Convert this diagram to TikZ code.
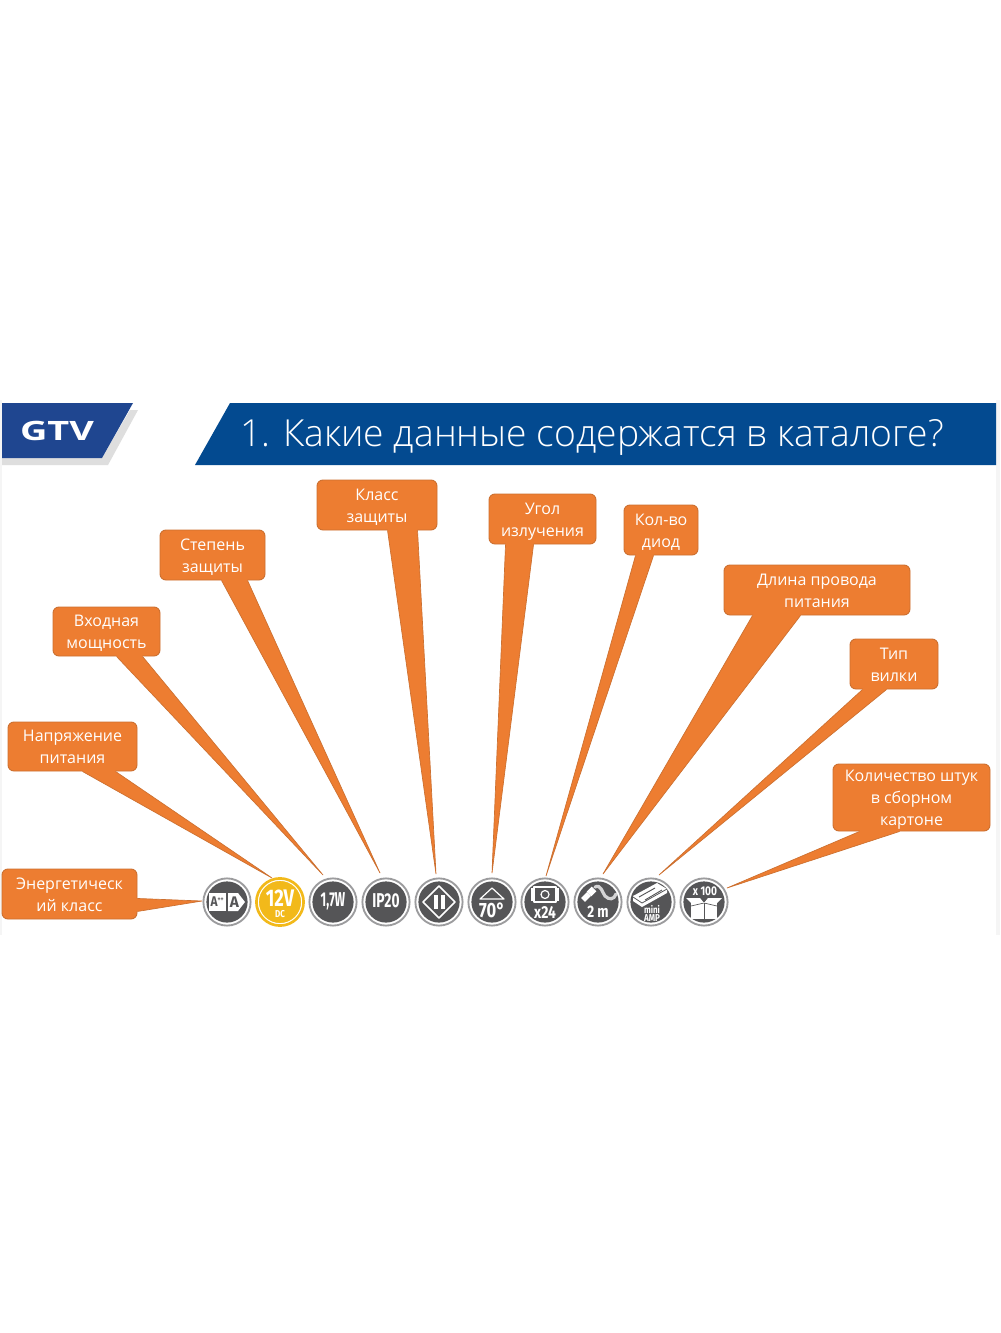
\documentclass[tikz,border=0pt]{standalone}
\usepackage{fontspec}
\setmainfont{Open Sans}
\newfontfamily\titlefont{Open Sans Light}
\newfontfamily\iconfont{Fira Sans}
\usetikzlibrary{calc}
\definecolor{orangeF}{HTML}{ED7D31}
\definecolor{orangeD}{HTML}{CC7030}
\definecolor{bannerB}{HTML}{034A90}
\definecolor{logoB}{HTML}{1F4690}
\definecolor{darkI}{HTML}{555557}
\definecolor{ringI}{HTML}{9C9C9E}
\definecolor{yellowI}{HTML}{F2B91A}
\tikzset{
  x=0.75pt,y=-0.75pt,
  calloutbox/.style={draw=orangeD,line width=0.7pt,fill=orangeF,rounded corners=4.5pt,
    text=white,font=\fontsize{12}{16.5}\selectfont,align=center,inner sep=0pt,anchor=center},
  iconring/.style={circle,draw=ringI,fill=white,line width=1.4pt,minimum size=35.4pt,inner sep=0pt},
  icontext/.style={text=white,inner sep=0pt,xscale=0.8},
  glyph/.style={draw=white,line width=0.9pt,line join=round},
}
% name, x1, y1, x2, y2, text (text set 2px below the middle, as in the reference)
\newcommand{\callbox}[6]{%
  \pgfmathsetmacro{\cbw}{(#4-#2)*0.75}\pgfmathsetmacro{\cbh}{(#5-#3)*0.75}%
  \node[calloutbox,minimum width=\cbw pt,minimum height=\cbh pt] (#1) at ({(#2+#4)/2},{(#3+#5)/2}) {\raisebox{-1.3pt}[\height][\depth]{\begin{tabular}{@{}c@{}}#6\end{tabular}}};}
\newcommand{\tailb}[4]{%
  \fill[orangeF] ($(#1.south west)+(#2,-1.6)$) -- ($(#1.south west)+(#2,0)$) -- ($#4$) -- ($(#1.south west)+(#3,0)$) -- ($(#1.south west)+(#3,-1.6)$) -- cycle;
  \draw[orangeD,line width=0.5pt,line join=miter] ($(#1.south west)+(#2,0)$) -- ($#4$) -- ($(#1.south west)+(#3,0)$);}
\newcommand{\iconbg}[3]{%
  \node[iconring] (#1) at (#2,902) {};
  \fill[#3] (#1.center) circle (20.6);}
\setlength{\tabcolsep}{0pt}
\begin{document}
\begin{tikzpicture}
\useasboundingbox (0,0) rectangle (1000,1333);
\fill[white] (0,0) rectangle (1000,1333);
\fill[black!4] (0,400) rectangle (2,935);
\fill[black!4] (996,400) rectangle (1000,935);
% header
\fill[black!13] (130,410) -- (138,410) -- (108,465) -- (2,465) -- (2,458) -- (102,458) -- cycle;
\fill[logoB] (2,403) -- (133,403) -- (102,458) -- (2,458) -- cycle;
\node[text=white,font=\fontsize{20}{20}\selectfont\bfseries,inner sep=0pt,xscale=1.42] (logo) at (57,431) {GTV};
\fill[bannerB] (230,403) -- (996,403) -- (996,465) -- (195,465) -- cycle;
\node[text=white,font=\titlefont\fontsize{27.95}{30}\selectfont,anchor=west,inner sep=0pt] (title) at (240,437) {1. Какие данные содержатся в каталоге?};
% boxes
\callbox{b1}{2}{869}{137}{919}{Энергетическ\\ий класс}
\callbox{b2}{8}{722}{137}{771}{Напряжение\\питания}
\callbox{b3}{53}{607}{160}{656}{Входная\\мощность}
\callbox{b4}{160}{530}{265}{580}{Степень\\защиты}
\callbox{b5}{317}{480}{437}{530}{Класс\\защиты}
\callbox{b6}{489}{494}{596}{544}{Угол\\излучения}
\callbox{b7}{624}{505}{698}{555}{Кол-во\\диод}
\callbox{b8}{724}{565}{910}{615}{Длина провода\\питания}
\callbox{b9}{850}{639}{938}{689}{Тип\\вилки}
\callbox{b10}{833}{764}{990}{831}{Количество штук\\в сборном\\картоне}
% icons
\iconbg{i1}{227}{darkI}
\node[circle,draw=white,line width=1.3pt,fill=yellowI,minimum size=33pt,inner sep=0pt,outer sep=0pt] (i2) at (280,902) {};
\iconbg{i3}{333}{darkI}
\iconbg{i4}{386}{darkI}
\iconbg{i5}{439}{darkI}
\iconbg{i6}{492}{darkI}
\iconbg{i7}{545}{darkI}
\iconbg{i8}{598}{darkI}
\iconbg{i9}{651}{darkI}
\iconbg{i10}{704}{darkI}
% yellow outer ring of icon 2
\draw[yellowI,line width=2pt] (i2.center) circle (23.6);
% tails
\fill[orangeF] ($(b1.south east)+(-1.6,-21)$) -- ($(b1.south east)+(0,-21)$) -- ($(i1)+(-25,-1)$) -- ($(b1.south east)+(0,-8)$) -- ($(b1.south east)+(-1.6,-8)$) -- cycle;
\draw[orangeD,line width=0.5pt] ($(b1.south east)+(0,-21)$) -- ($(i1)+(-25,-1)$) -- ($(b1.south east)+(0,-8)$);
\tailb{b2}{75}{108}{(i2)+(-8,-24)}
\tailb{b3}{64}{90}{(i3)+(-10,-27)}
\tailb{b4}{62}{88}{(i4)+(-6,-29)}
\tailb{b5}{71}{101}{(i5)+(-3,-28)}
\tailb{b6}{17}{45}{(i6)+(0,-29)}
\tailb{b7}{12}{30}{(i7)+(1,-26)}
\tailb{b8}{29}{77}{(i8)+(5,-28)}
\tailb{b9}{13}{37}{(i9)+(8,-27)}
\tailb{b10}{27}{67}{(i10)+(23,-14)}
% icon 1: energy class
\begin{scope}[shift={(i1)}]
\fill[white] (-18,-9) -- (-1,-9) -- (-1,9) -- (-18,9) -- cycle;
\fill[white] (1,-9) -- (11,-9) -- (18,0) -- (11,9) -- (1,9) -- cycle;
\node[text=darkI,font=\iconfont\bfseries\fontsize{10.5}{11}\selectfont,inner sep=0pt,xscale=0.85] (i1a) at (-9.5,0) {A\textsuperscript{\fontsize{5}{5}\selectfont ++}};
\node[text=darkI,font=\iconfont\bfseries\fontsize{11.5}{12}\selectfont,inner sep=0pt] (i1b) at (7.5,0) {A};
\end{scope}
% icon 2
\node[icontext,xscale=0.96,font=\iconfont\bfseries\fontsize{18}{18}\selectfont] (i2a) at ($(i2)+(0,-4)$) {12V};
\node[icontext,xscale=1,font=\iconfont\bfseries\fontsize{7.5}{7.5}\selectfont] (i2b) at ($(i2)+(0,12.5)$) {DC};
% icon 3, 4
\node[icontext,xscale=0.76,font=\iconfont\bfseries\fontsize{15}{15}\selectfont] (i3a) at ($(i3)+(0,-1)$) {1,7W};
\node[icontext,xscale=0.86,font=\iconfont\bfseries\fontsize{15}{15}\selectfont] (i4a) at ($(i4)+(0,-1)$) {IP20};
% icon 5
\begin{scope}[shift={(i5)}]
\draw[glyph,line width=1.3pt] (0,-16) -- (16,0) -- (0,16) -- (-16,0) -- cycle;
\fill[white] (-5.5,-7) rectangle (-1.5,7);
\fill[white] (1.5,-7) rectangle (5.5,7);
\end{scope}
% icon 6
\begin{scope}[shift={(i6)}]
\draw[glyph] (-12,-3) -- (0,-14) -- (12,-3) -- cycle;
\node[icontext,font=\iconfont\bfseries\fontsize{15.5}{16}\selectfont] (i6a) at (0,8) {70°};
\end{scope}
% icon 7
\begin{scope}[shift={(i7)}]
\draw[glyph] (-11,-15) rectangle (11,0);
\fill[white] (-14,-14) rectangle (-10,-1);
\fill[white] (10,-14) rectangle (14,-1);
\draw[glyph] (0,-7.5) circle (4);
\node[icontext,font=\iconfont\bfseries\fontsize{13}{13}\selectfont] (i7a) at (0,10) {x24};
\end{scope}
% icon 8
\begin{scope}[shift={(i8)}]
\draw[white,line width=4pt] (-15,-2) -- (-9,-8);
\draw[white,line width=5pt] (-9,-8) -- (-4,-13);
\draw[white!75!darkI,line width=2.4pt,line cap=round] (-3,-15) .. controls (3,-18) and (4,-10) .. (7,-6) .. controls (11,-2) and (16,-2) .. (18,-8);
\node[icontext,font=\iconfont\bfseries\fontsize{12.5}{13}\selectfont] (i8a) at (0,10) {2 m};
\end{scope}
% icon 9
\begin{scope}[shift={(i9)}]
\fill[white] (-18,-6) -- (6,-19) -- (16,-13) -- (16,-9) -- (-9,5) -- (-18,-1) -- cycle;
\draw[darkI,line width=0.7pt] (-12,-5) -- (4,-14);
\draw[darkI,line width=0.7pt] (-6,-2) -- (11,-12);
\draw[darkI,line width=0.6pt] (-18,-5) -- (-9,1) -- (16,-13);
\node[icontext,xscale=1,font=\iconfont\bfseries\fontsize{7.5}{6.2}\selectfont,align=center] (i9a) at (1,11.5) {mini\\AMP};
\end{scope}
% icon 10
\begin{scope}[shift={(i10)}]
\node[icontext,font=\iconfont\bfseries\fontsize{9.5}{10}\selectfont] (i10a) at (1,-11) {x 100};
\fill[white] (-13,0) -- (13,0) -- (13,17) -- (-13,17) -- cycle;
\fill[white] (-13,1) -- (-18,-4) -- (-4,-4) -- (0,1) -- (4,-4) -- (18,-4) -- (13,1) -- cycle;
\draw[darkI,line width=0.5pt] (-13,4) -- (0,1) -- (13,4);
\draw[darkI,line width=0.5pt] (0,1) -- (0,17);
\end{scope}
\end{tikzpicture}
\end{document}
